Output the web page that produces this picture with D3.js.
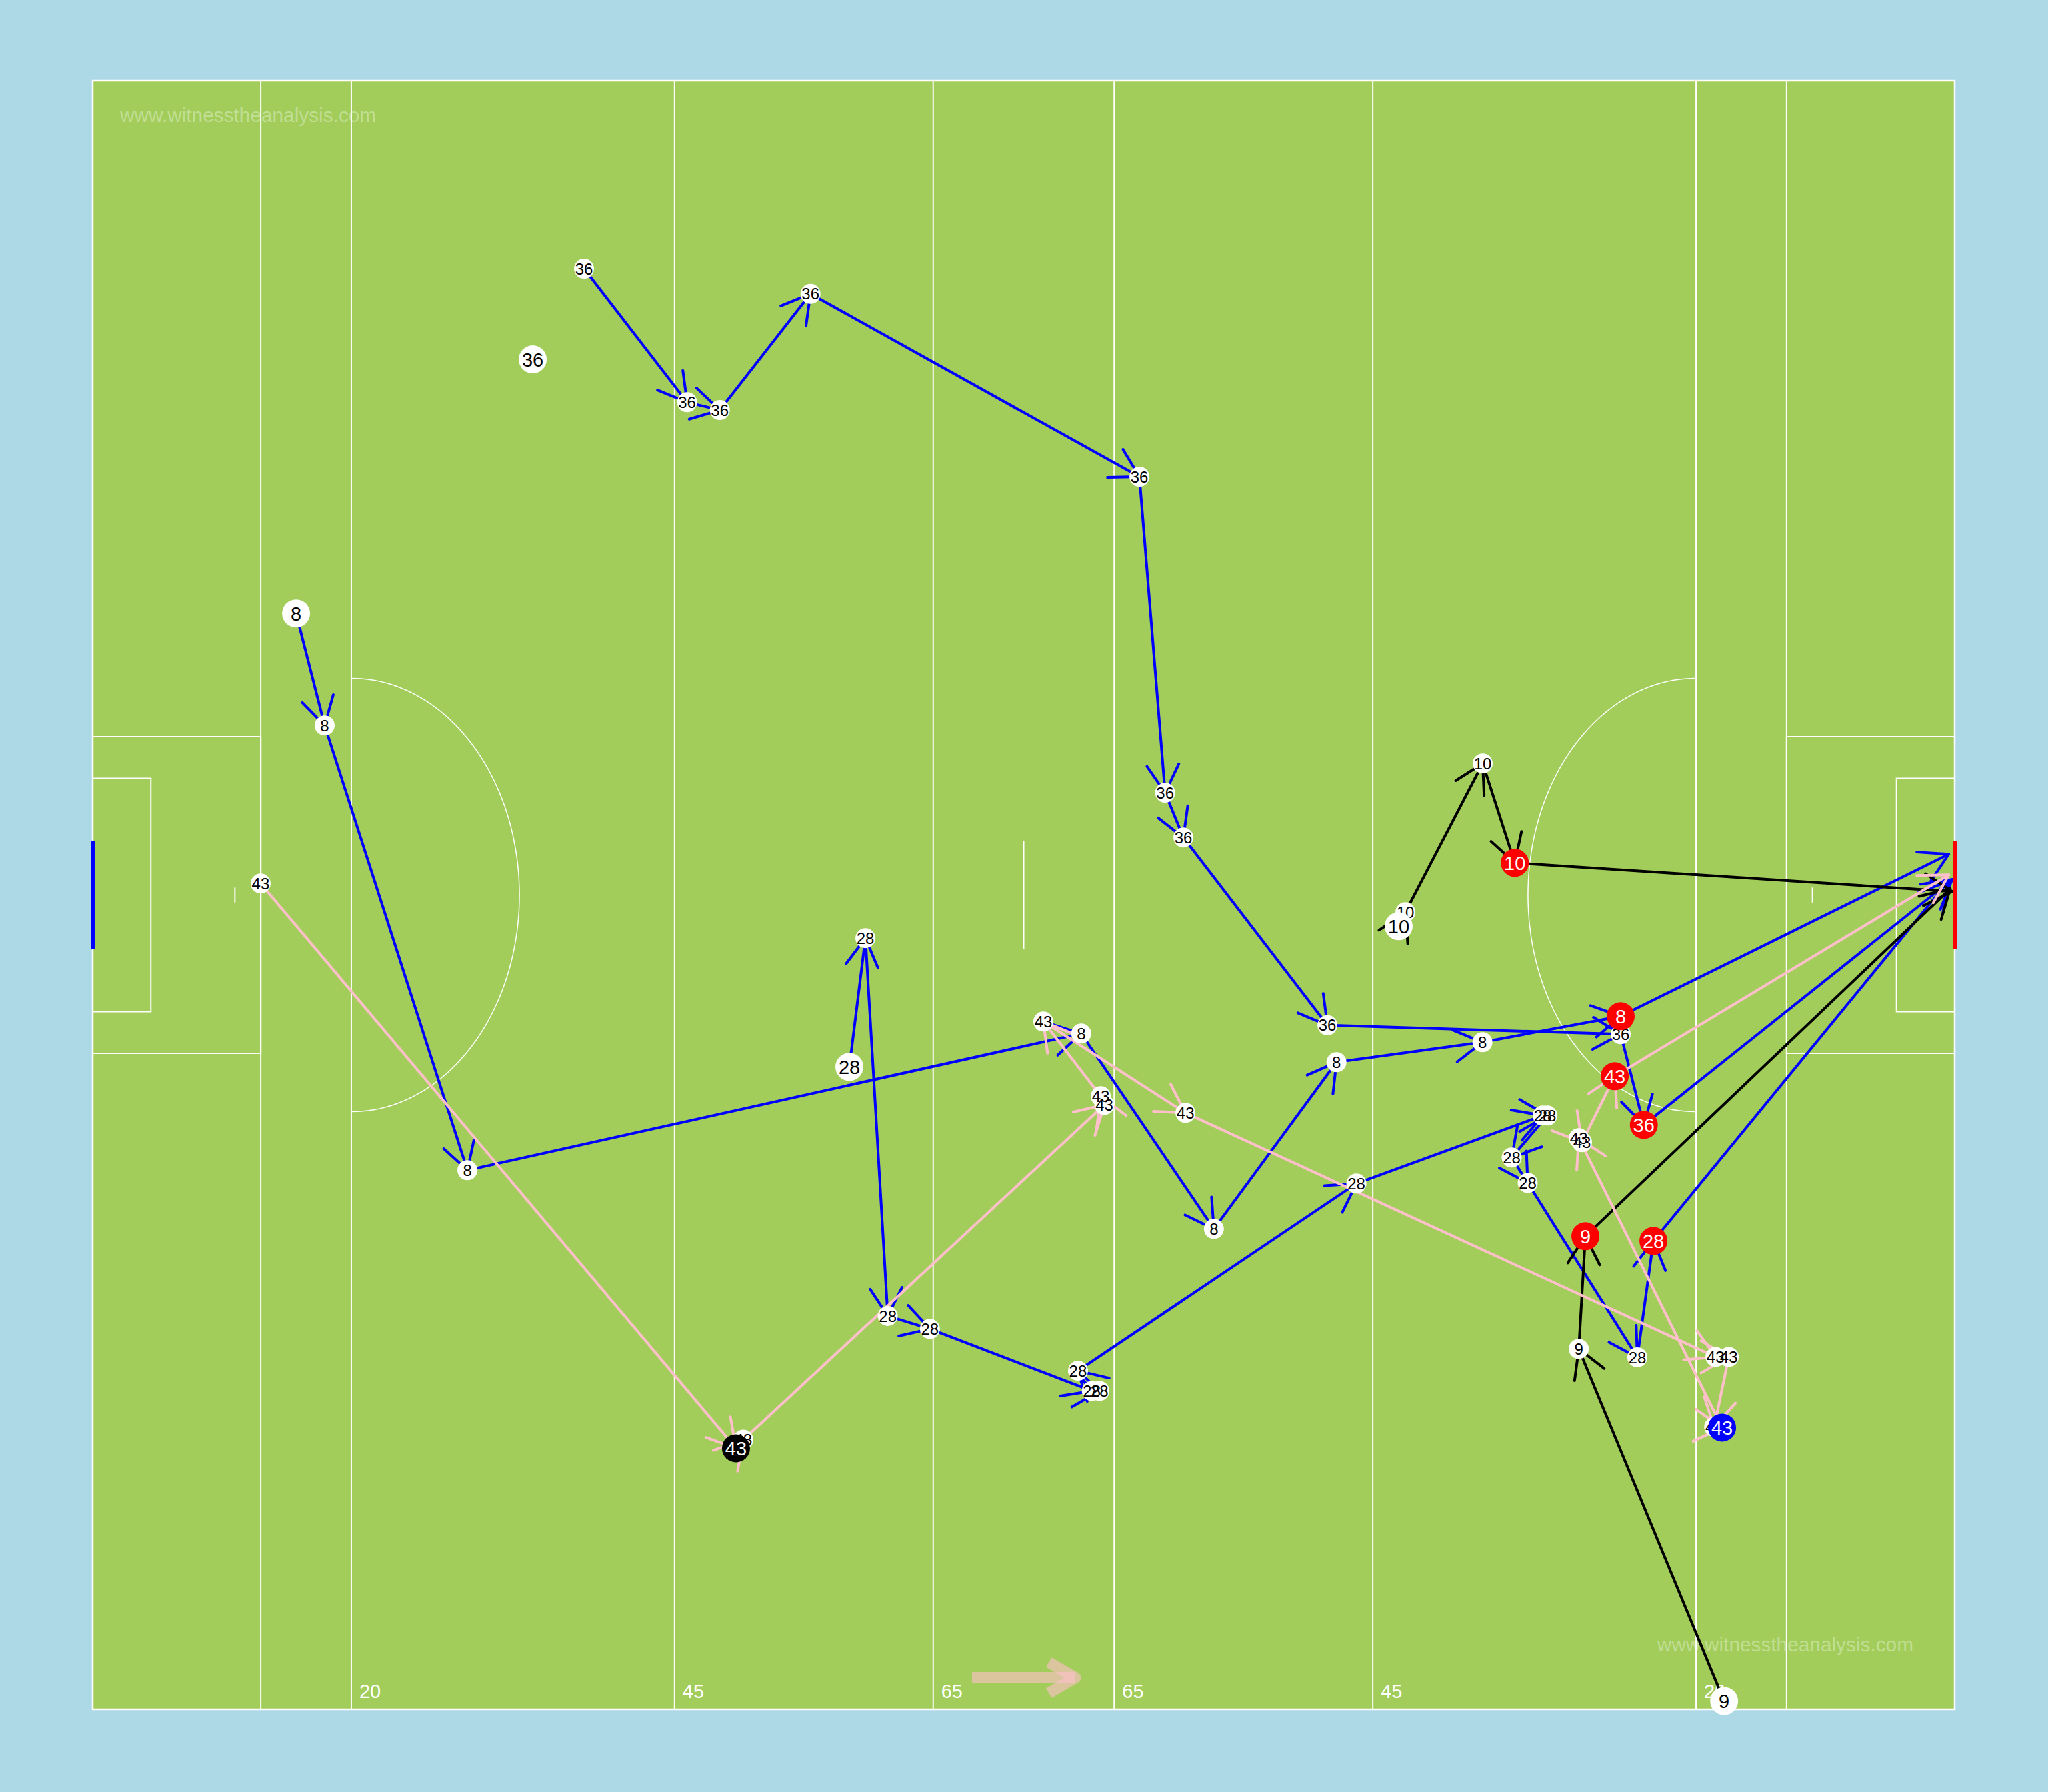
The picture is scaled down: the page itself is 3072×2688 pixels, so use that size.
<!DOCTYPE html>
<html>
<head>
<meta charset="utf-8">
<script src="https://cdn.jsdelivr.net/npm/d3@7"></script>
<style>
  html, body { margin: 0; padding: 0; background: #add8e6; }
  svg { display: block; font-family: "Liberation Sans", Arial, sans-serif; }
</style>
</head>
<body>
<script>
// Pitch size (metres) and the lines measured from each end line.
const pitchLength = 144;
const pitchWidth = 97.7;
const distLines = [13, 20, 45, 65];
const labelledLines = [20, 45, 65];
const bigBox = [13, 19];     // depth, width
const smallBox = [4.5, 14];  // depth, width
const goalWidth = 6.5;
const arcRadius = 13;
const penaltySpot = 11;

// Touches per player, in pitch metres: [x, y, kind]
// kind: "" plain touch, "start", "black", "blue", "shot", "goal" (end of shot)
const touches36 = [
  [38.0, 11.28, ""], [45.97, 19.29, ""], [48.5, 19.76, ""], [55.51, 12.79, ""],
  [80.95, 23.76, ""], [82.94, 42.72, ""], [84.35, 45.4, ""], [95.49, 56.66, ""],
  [118.17, 57.2, ""], [119.96, 62.64, "shot"], [143.8, 47.92, "goal"]
];
const touches8 = [
  [15.73, 31.96, "start"], [17.94, 38.68, ""], [28.98, 65.36, ""], [76.45, 57.16, ""],
  [86.71, 68.88, ""], [96.19, 58.88, ""], [107.48, 57.68, ""], [118.17, 56.12, "shot"],
  [143.54, 46.4, "goal"]
];
const touches28 = [
  [58.52, 59.16, "start"], [59.76, 51.44, ""], [61.49, 74.1, ""], [64.75, 74.88, ""],
  [77.27, 78.6, ""], [77.86, 78.6, ""], [76.2, 77.39, ""], [97.73, 66.16, ""],
  [112.14, 62.08, ""], [112.5, 62.08, ""], [109.74, 64.6, ""], [110.98, 66.12, ""],
  [119.46, 76.58, ""], [120.7, 69.6, "shot"], [143.49, 48.04, "goal"]
];
const touches10 = [
  [101.0, 50.72, "start"], [101.52, 49.88, ""], [107.5, 40.96, ""],
  [109.98, 46.92, "shot"], [143.8, 48.64, "goal"]
];
const touches9 = [
  [126.17, 97.2, "start"], [114.93, 76.08, ""], [115.44, 69.32, "shot"],
  [143.65, 48.48, "goal"]
];
const touches43 = [
  [12.99, 48.16, ""], [49.75, 82.04, "black"], [50.32, 81.52, ""], [78.24, 61.44, ""],
  [77.96, 60.92, ""], [73.52, 56.44, ""], [84.51, 61.92, ""], [125.5, 76.56, ""],
  [126.53, 76.56, ""], [125.4, 80.76, ""], [126.01, 80.8, "blue"], [114.93, 63.44, ""],
  [115.18, 63.68, ""], [117.71, 59.72, "shot"], [143.54, 47.64, "goal"]
];
// start position with no touches after it
const loneStarts = [[34.03, 16.72, "36"]];

// direction of play arrow
const playArrow = [68, 76, 95.8];

const players = ["36", "8", "28", "10", "9", "43"];
const touches = { "36": touches36, "8": touches8, "28": touches28, "10": touches10, "9": touches9, "43": touches43 };
const lineColour = { "36": "blue", "8": "blue", "28": "blue", "10": "black", "9": "black", "43": "pink" };
const markFill = { start: "white", black: "black", blue: "blue", shot: "red" };
const markText = { start: "black", black: "white", blue: "white", shot: "white" };

const W = 3072, H = 2688;
const x = d3.scaleLinear().domain([0, pitchLength]).range([139, 2932]);
const y = d3.scaleLinear().domain([0, pitchWidth]).range([121, 2564]);
const mid = pitchWidth / 2;

const svg = d3.select("body").append("svg").attr("width", W).attr("height", H);
svg.append("rect").attr("width", W).attr("height", H).attr("fill", "#add8e6");

// pitch
const pitch = svg.append("g").attr("stroke", "white").attr("fill", "none");
pitch.append("rect")
  .attr("x", x(0)).attr("y", y(0))
  .attr("width", x(pitchLength) - x(0)).attr("height", y(pitchWidth) - y(0))
  .attr("fill", "#a2cd5a").attr("stroke-width", 2.5);

const ends = [
  { at: (d) => d },
  { at: (d) => pitchLength - d }
];
ends.forEach((e) => {
  distLines.forEach((d) => {
    pitch.append("line")
      .attr("x1", x(e.at(d))).attr("x2", x(e.at(d)))
      .attr("y1", y(0)).attr("y2", y(pitchWidth)).attr("stroke-width", 2);
  });
  [bigBox, smallBox].forEach(([depth, width]) => {
    pitch.append("path")
      .attr("stroke-width", 2)
      .attr("d", d3.line()([
        [x(e.at(0)), y(mid - width / 2)],
        [x(e.at(depth)), y(mid - width / 2)],
        [x(e.at(depth)), y(mid + width / 2)],
        [x(e.at(0)), y(mid + width / 2)]
      ]));
  });
  const arcPts = d3.range(-90, 90.1, 2).map((a) => {
    const t = (a * Math.PI) / 180;
    return [x(e.at(20 + arcRadius * Math.cos(t))), y(mid + arcRadius * Math.sin(t))];
  });
  pitch.append("path").attr("d", d3.line()(arcPts)).attr("stroke-width", 1.5);
  pitch.append("line")
    .attr("x1", x(e.at(penaltySpot))).attr("x2", x(e.at(penaltySpot)))
    .attr("y1", y(mid - 0.45)).attr("y2", y(mid + 0.45)).attr("stroke-width", 2);
});
// half-way mark
pitch.append("line")
  .attr("x1", x(pitchLength / 2)).attr("x2", x(pitchLength / 2))
  .attr("y1", y(mid - goalWidth / 2)).attr("y2", y(mid + goalWidth / 2))
  .attr("stroke-width", 2);
// goals
svg.append("line")
  .attr("x1", x(0)).attr("x2", x(0))
  .attr("y1", y(mid - goalWidth / 2)).attr("y2", y(mid + goalWidth / 2))
  .attr("stroke", "blue").attr("stroke-width", 6);
svg.append("line")
  .attr("x1", x(pitchLength)).attr("x2", x(pitchLength))
  .attr("y1", y(mid - goalWidth / 2)).attr("y2", y(mid + goalWidth / 2))
  .attr("stroke", "red").attr("stroke-width", 6);

// distance labels
const labelAt = labelledLines.map((d) => [d, String(d)])
  .concat(labelledLines.slice().reverse().map((d) => [pitchLength - d, String(d)]));
svg.selectAll("text.dist")
  .data(labelAt)
  .enter()
  .append("text")
  .attr("class", "dist")
  .attr("x", (d) => x(d[0]) + 12)
  .attr("y", y(pitchWidth) - 17)
  .attr("fill", "white")
  .attr("font-size", 29)
  .text((d) => d[1]);

// watermarks
svg.append("text")
  .attr("x", x(0) + 41).attr("y", y(0) + 62)
  .attr("font-size", 29.8).attr("fill", "white").attr("fill-opacity", 0.35)
  .text("www.witnesstheanalysis.com");
svg.append("text")
  .attr("x", x(pitchLength) - 62).attr("y", y(pitchWidth) - 87)
  .attr("text-anchor", "end")
  .attr("font-size", 29.8).attr("fill", "white").attr("fill-opacity", 0.35)
  .text("www.witnesstheanalysis.com");

// direction of play
const pa = svg.append("g")
  .attr("stroke", "pink").attr("stroke-opacity", 0.6)
  .attr("stroke-width", 17).attr("fill", "none");
pa.append("line")
  .attr("x1", x(playArrow[0])).attr("x2", x(playArrow[1]))
  .attr("y1", y(playArrow[2])).attr("y2", y(playArrow[2]))
  .attr("stroke-linecap", "butt");
{
  const tx = x(playArrow[1]), ty = y(playArrow[2]);
  const a = Math.PI / 6, L = 46;
  pa.append("path")
    .attr("stroke-linejoin", "round")
    .attr("d", d3.line()([
      [tx - L * Math.cos(a), ty - L * Math.sin(a)],
      [tx, ty],
      [tx - L * Math.cos(a), ty + L * Math.sin(a)]
    ]));
}

// arrows between consecutive touches
const headLen = 48;
const headAng = Math.PI / 6;
const arrows = svg.append("g").attr("stroke-width", 4).attr("stroke-linecap", "round");
players.forEach((p) => {
  const pts = touches[p];
  const g = arrows.append("g").attr("stroke", lineColour[p]);
  for (let i = 1; i < pts.length; i++) {
    const x0 = x(pts[i - 1][0]), y0 = y(pts[i - 1][1]);
    const x1 = x(pts[i][0]), y1 = y(pts[i][1]);
    g.append("line").attr("x1", x0).attr("y1", y0).attr("x2", x1).attr("y2", y1);
    const ang = Math.atan2(y1 - y0, x1 - x0) + Math.PI;
    [-1, 1].forEach((s) => {
      g.append("line")
        .attr("x1", x1).attr("y1", y1)
        .attr("x2", x1 + headLen * Math.cos(ang + s * headAng))
        .attr("y2", y1 + headLen * Math.sin(ang + s * headAng));
    });
  }
});

// plain touches
const plain = players.flatMap((p) =>
  touches[p].filter((d) => d[2] === "").map((d) => ({ num: p, x: d[0], y: d[1] }))
);
svg.append("g").selectAll("circle")
  .data(plain)
  .enter()
  .append("circle")
  .attr("cx", (d) => x(d.x)).attr("cy", (d) => y(d.y))
  .attr("r", 15).attr("fill", "white");
svg.append("g").selectAll("text")
  .data(plain)
  .enter()
  .append("text")
  .attr("x", (d) => x(d.x)).attr("y", (d) => y(d.y))
  .attr("dy", "0.36em").attr("text-anchor", "middle")
  .attr("font-size", 24).attr("fill", "black")
  .text((d) => d.num);

// start, event and shot markers
const marks = loneStarts.map((d) => ({ num: d[2], x: d[0], y: d[1], kind: "start" }))
  .concat(players.flatMap((p) =>
    touches[p].filter((d) => markFill[d[2]]).map((d) => ({ num: p, x: d[0], y: d[1], kind: d[2] }))
  ));
const mg = svg.append("g").selectAll("g")
  .data(marks)
  .enter()
  .append("g")
  .attr("transform", (d) => `translate(${x(d.x)},${y(d.y)})`);
mg.append("circle").attr("r", 21).attr("fill", (d) => markFill[d.kind]);
mg.append("text")
  .attr("dy", "0.36em").attr("text-anchor", "middle")
  .attr("font-size", 29).attr("fill", (d) => markText[d.kind])
  .text((d) => d.num);
</script>
</body>
</html>
